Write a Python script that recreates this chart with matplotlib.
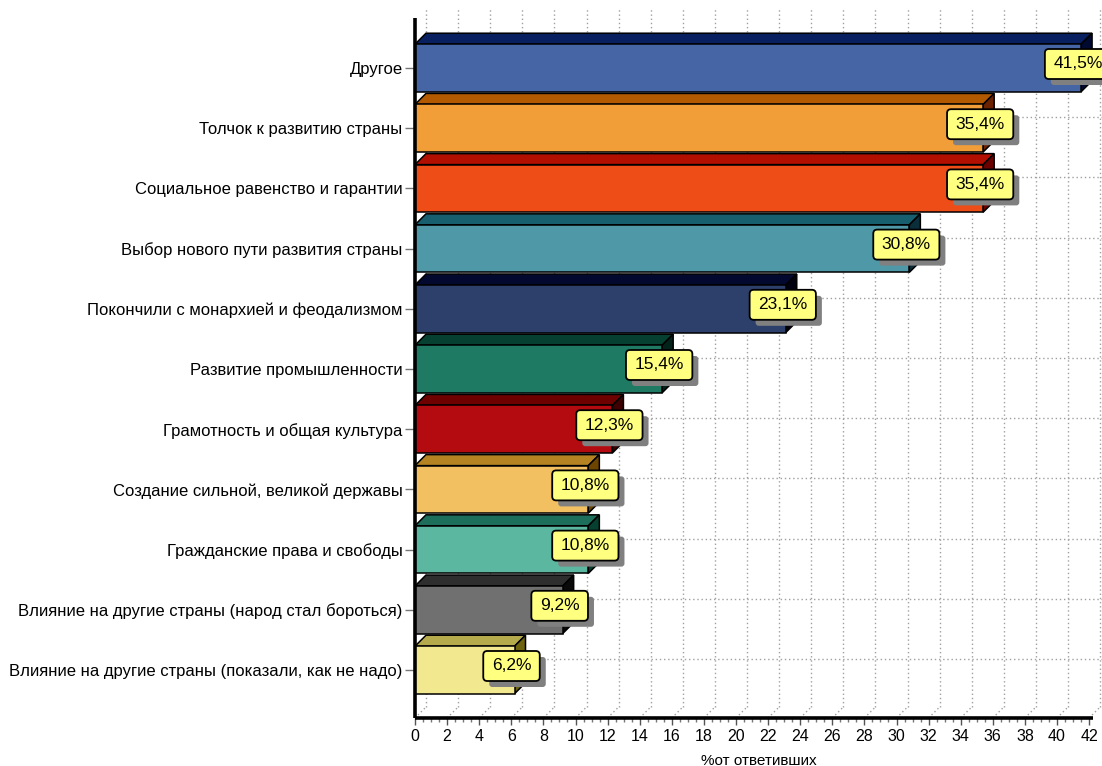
import matplotlib
matplotlib.use("Agg")
import matplotlib.pyplot as plt
from matplotlib.patches import Polygon, FancyBboxPatch
from matplotlib.transforms import IdentityTransform

plt.rcParams["font.family"] = ["Liberation Sans", "DejaVu Sans"]

categories = [
    "Другое",
    "Толчок к развитию страны",
    "Социальное равенство и гарантии",
    "Выбор нового пути развития страны",
    "Покончили с монархией и феодализмом",
    "Развитие промышленности",
    "Грамотность и общая культура",
    "Создание сильной, великой державы",
    "Гражданские права и свободы",
    "Влияние на другие страны (народ стал бороться)",
    "Влияние на другие страны (показали, как не надо)",
]
values = [41.5, 35.4, 35.4, 30.8, 23.1, 15.4, 12.3, 10.8, 10.8, 9.2, 6.2]

front_colors = ["#4565A4", "#F29E38", "#EF4D17", "#4E98A8", "#2D3F6B", "#1E7A62",
                "#B30B10", "#F3C061", "#5BB79F", "#707070", "#F2E88F"]
top_colors = ["#082060", "#B35A00", "#B20F00", "#175F6E", "#03082E", "#064030",
              "#6E0000", "#B58321", "#1D6E5A", "#2E2E2E", "#B5AB4D"]
side_colors = ["#000A30", "#6A2200", "#6B0000", "#0A2E3A", "#000010", "#02221A",
               "#3E0000", "#6E4500", "#064030", "#0A0A0A", "#6E6410"]

W, H = 1102, 766
PX_PER_UNIT = 16.05      # pixels per % on x
PX_PER_CAT = 60.2        # pixels between categories
X0_PX, BOTTOM_PX, FIRST_PX = 415, 718, 68
DEPTH_PX = 11

fig = plt.figure(figsize=(W / 100, H / 100), dpi=100)
ax = fig.add_axes([X0_PX / W, 1 - BOTTOM_PX / H, (W - X0_PX) / W, BOTTOM_PX / H])
xmax = (W - X0_PX) / PX_PER_UNIT
ybot = (BOTTOM_PX - FIRST_PX) / PX_PER_CAT
ytop = -FIRST_PX / PX_PER_CAT
ax.set_xlim(0, xmax)
ax.set_ylim(ybot, ytop)
for s in ax.spines.values():
    s.set_visible(False)

dx = DEPTH_PX / PX_PER_UNIT
dy = DEPTH_PX / PX_PER_CAT
h = 0.79

# back-wall grid
grid_kw = dict(color="#a0a0a0", lw=1.0, ls=(0, (1, 2)), zorder=1)
for k in range(0, 43, 2):
    ax.plot([k + dx, k + dx], [ybot - dy, ytop + 0.12], **grid_kw)
    ax.plot([k, k + dx], [ybot, ybot - dy], **grid_kw)
for i in range(len(categories)):
    ax.plot([dx, xmax], [i - dy, i - dy], **grid_kw)

# pseudo-3D bars
for i, v in enumerate(values):
    y0, y1 = i - h / 2, i + h / 2
    front = Polygon([(0, y0), (v, y0), (v, y1), (0, y1)], closed=True,
                    fc=front_colors[i], ec="black", lw=1.1, zorder=3)
    top = Polygon([(0, y0), (dx, y0 - dy), (v + dx, y0 - dy), (v, y0)], closed=True,
                  fc=top_colors[i], ec="black", lw=1.1, zorder=3)
    side = Polygon([(v, y0), (v + dx, y0 - dy), (v + dx, y1 - dy), (v, y1)], closed=True,
                   fc=side_colors[i], ec="black", lw=1.1, zorder=3)
    for p in (top, side, front):
        ax.add_patch(p)

# axes lines
ax.plot([0, 0], [ybot, -0.83], color="black", lw=2.6, clip_on=False, zorder=5,
        solid_capstyle="butt")
ax.plot([0, 42.25], [ybot, ybot], color="black", lw=2.6, clip_on=False, zorder=5,
        solid_capstyle="butt")

ax.set_yticks(range(len(categories)))
ax.set_yticklabels(categories, fontsize=12)
ax.tick_params(axis="y", length=7, width=1, color="#777777", pad=2)
ax.set_xticks(range(0, 43, 2))
ax.set_xticklabels([str(k) for k in range(0, 43, 2)], fontsize=11.5)
ax.set_xticks([k * 0.5 for k in range(0, 85)], minor=True)
ax.tick_params(axis="x", which="major", length=5, width=1, color="#555555", pad=3)
ax.tick_params(axis="x", which="minor", length=3, width=1, color="#777777")
ax.set_xlabel("%от ответивших", fontsize=11, labelpad=7)

# value labels with shadow
fig.canvas.draw()
renderer = fig.canvas.get_renderer()
for i, v in enumerate(values):
    px, py = ax.transData.transform((v, i))
    cx, cy = px - 3, py + 4
    t = fig.text(cx / W, cy / H, f"{v:.1f}".replace(".", ",") + "%", fontsize=12.5,
                 ha="center", va="center", zorder=12)
    bb = t.get_window_extent(renderer)
    bw, bh = bb.width + 17, 30
    shadow = FancyBboxPatch((cx - bw / 2 + 6, cy - bh / 2 - 6), bw, bh,
                            boxstyle="round,pad=0,rounding_size=3",
                            fc="#808080", ec="none", transform=IdentityTransform(),
                            zorder=10)
    box = FancyBboxPatch((cx - bw / 2, cy - bh / 2), bw, bh,
                         boxstyle="round,pad=0,rounding_size=4",
                         fc="#FFFF80", ec="black", lw=1.3,
                         transform=IdentityTransform(), zorder=11)
    fig.patches.extend([shadow, box])

fig.savefig("out.png", dpi=100)
